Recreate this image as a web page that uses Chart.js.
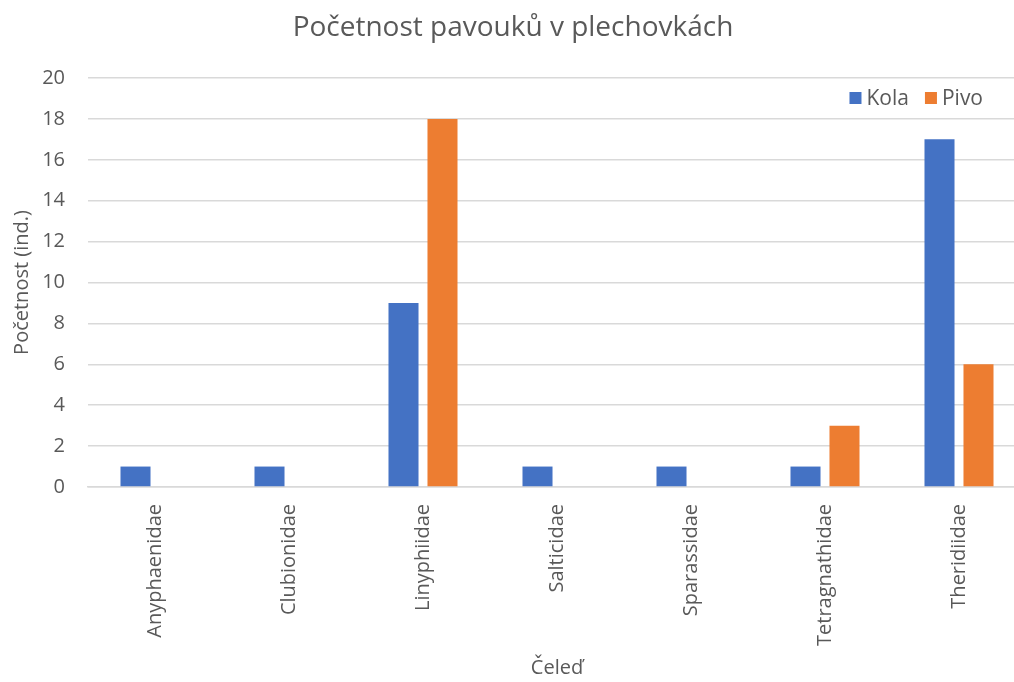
<!DOCTYPE html>
<html>
<head>
<meta charset="utf-8">
<script src="https://cdn.jsdelivr.net/npm/chart.js@4.4.0/dist/chart.umd.min.js"></script>
<style>
  html, body { margin: 0; padding: 0; background: #fff; overflow: hidden; }
  #wrap { width: 1026px; height: 682px; }
</style>
</head>
<body>
<div id="wrap"><canvas id="graf"></canvas></div>
<script>
// data z grafu
var celedi = ['Anyphaenidae', 'Clubionidae', 'Linyphiidae', 'Salticidae', 'Sparassidae', 'Tetragnathidae', 'Theridiidae'];
var kola = [1, 1, 9, 1, 1, 1, 17];
var pivo = [0, 0, 18, 0, 0, 3, 6];
var osaY = [0, 2, 4, 6, 8, 10, 12, 14, 16, 18, 20];

var seda = '#595959';
var mrizka = '#d9d9d9';
var pismo = "'Open Sans', 'Noto Sans', sans-serif";

// vlastni legenda vpravo nahore v ploše grafu
var legendaPlugin = {
    id: 'legendaVpravo',
    afterDraw: function (chart) {
        var ctx = chart.ctx;
        var sady = chart.data.datasets;
        ctx.save();
        ctx.font = '21px ' + pismo;
        ctx.textBaseline = 'middle';
        var box = 12, mezera = 5, mezi = 16;
        var x = 983;
        var y = 98;
        var polozky = [];
        for (var i = sady.length - 1; i >= 0; i--) {
            var w = ctx.measureText(sady[i].label).width;
            x -= w;
            polozky.unshift({ sada: sady[i], tx: x, bx: x - mezera - box });
            x -= mezera + box + mezi;
        }
        polozky.forEach(function (p) {
            ctx.fillStyle = p.sada.backgroundColor;
            ctx.fillRect(p.bx, y - box / 2, box, box);
            ctx.fillStyle = seda;
            ctx.fillText(p.sada.label, p.tx, y + 1);
        });
        ctx.restore();
    }
};

var ctx = document.getElementById('graf').getContext('2d');
var graf = new Chart(ctx, {
    type: 'bar',
    data: {
        labels: celedi,
        datasets: [{
            label: 'Kola',
            data: kola,
            backgroundColor: '#4472c4',
            categoryPercentage: 0.582,
            barPercentage: 0.77
        }, {
            label: 'Pivo',
            data: pivo,
            backgroundColor: '#ed7d31',
            categoryPercentage: 0.582,
            barPercentage: 0.77
        }]
    },
    options: {
        responsive: true,
        maintainAspectRatio: false,
        animation: false,
        layout: { padding: 0 },
        plugins: {
            legend: { display: false },
            tooltip: { enabled: false },
            title: {
                display: true,
                text: 'Početnost pavouků v plechovkách',
                color: seda,
                font: { family: pismo, size: 28, weight: 'normal', lineHeight: 1.2 },
                padding: { top: 11, bottom: 33.4 }
            }
        },
        scales: {
            x: {
                grid: { display: false, drawTicks: false },
                border: { display: true, color: mrizka, width: 1.5 },
                ticks: {
                    color: seda,
                    font: { family: pismo, size: 20 },
                    minRotation: 90,
                    maxRotation: 90,
                    padding: 17
                },
                title: {
                    display: true,
                    text: 'Čeleď',
                    color: seda,
                    font: { family: pismo, size: 20, lineHeight: 1.2 },
                    padding: { top: 0, bottom: 2 }
                },
                afterFit: function (scale) { scale.height = 195; }
            },
            y: {
                min: 0,
                max: 20,
                afterBuildTicks: function (scale) {
                    scale.ticks = osaY.map(function (v) { return { value: v }; });
                },
                grid: { color: mrizka, lineWidth: 1.5, drawTicks: false },
                border: { display: false },
                ticks: {
                    color: seda,
                    font: { family: pismo, size: 20 },
                    padding: 23
                },
                title: {
                    display: true,
                    text: 'Početnost (ind.)',
                    color: seda,
                    font: { family: pismo, size: 20, lineHeight: 1.2 },
                    padding: { top: 10, bottom: 0 }
                },
                afterFit: function (scale) { scale.width = 88; }
            }
        }
    },
    plugins: [legendaPlugin]
});
</script>
</body>
</html>
